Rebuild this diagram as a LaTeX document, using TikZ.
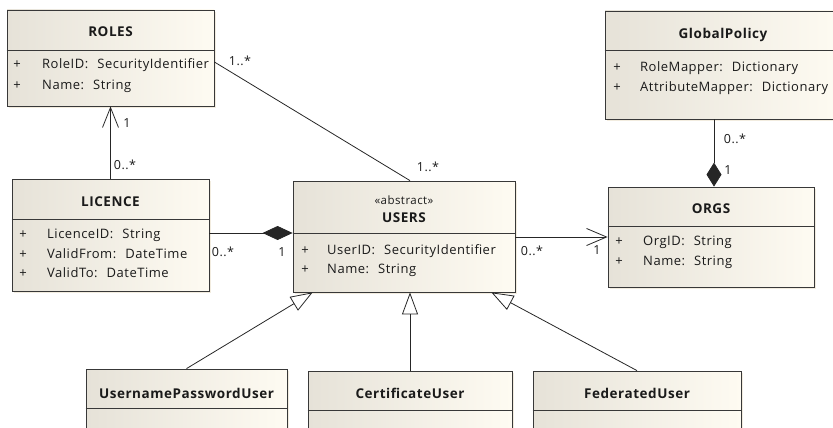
\documentclass[tikz,border=0pt]{standalone}
\usepackage{fontspec}
\setmainfont[LetterSpace=4]{Open Sans}
\usetikzlibrary{arrows.meta,fit,shadows}

\definecolor{boxleft}{HTML}{E6E2D8}
\definecolor{boxright}{HTML}{FEFBF2}
\definecolor{boxline}{HTML}{383838}
\definecolor{boxshadow}{HTML}{F2ECDF}
\definecolor{umltext}{HTML}{1A1A1A}

% one attribute line: name, x of +, x of text, y, field, type
\newcommand{\umlattr}[6]{%
  \node[attr] (#1p) at (#2,#4) {+};
  \node[attr, anchor=mid west] (#1) at (#3,#4) {#5:\hspace{9pt}#6};}

\begin{document}
\begin{tikzpicture}[x=1pt, y=-1pt,
    umlclass/.style={draw=boxline, line width=0.8pt, inner sep=0pt,
      left color=boxleft, right color=boxright,
      drop shadow={shadow xshift=2pt, shadow yshift=-2pt, fill=boxshadow, opacity=1}},
    divider/.style={draw=boxline, line width=0.8pt},
    title/.style={font=\bfseries\fontsize{13.5}{16}\selectfont, text=umltext, inner sep=0pt, anchor=mid, yshift=-2.5pt},
    stereo/.style={font=\fontsize{11.5}{13}\selectfont, text=umltext, inner sep=0pt, anchor=mid, yshift=-2pt},
    attr/.style={font=\fontsize{13}{15}\selectfont, text=umltext, inner sep=0pt, anchor=mid, yshift=-2.5pt},
    mult/.style={font=\fontsize{12.5}{14}\selectfont, text=umltext, inner sep=0pt, anchor=mid, yshift=-2.5pt},
    assoc/.style={draw=black!85, line width=0.8pt}]
  \useasboundingbox (0,0) rectangle (833,428);
  \clip (0,0) rectangle (833,428);

  % ROLES
  \node[umlclass, fit={(7,10) (214,106)}] (roles) {};
  \draw[divider] (roles.west |- 0,50) -- (roles.east |- 0,50);
  \node[title] (rolestitle) at (roles.north |- 0,31) {ROLES};
  \umlattr{roleid}{17}{42}{63}{RoleID}{SecurityIdentifier}
  \umlattr{rolename}{17}{42}{84}{Name}{String}

  % LICENCE
  \node[umlclass, fit={(12,179) (209,291)}] (licence) {};
  \draw[divider] (licence.west |- 0,219) -- (licence.east |- 0,219);
  \node[title] (licencetitle) at (licence.north |- 0,201) {LICENCE};
  \umlattr{licenceid}{23}{47}{233}{LicenceID}{String}
  \umlattr{validfrom}{23}{47}{253}{ValidFrom}{DateTime}
  \umlattr{validto}{23}{47}{272}{ValidTo}{DateTime}

  % USERS
  \node[umlclass, fit={(293,181) (515,292)}] (users) {};
  \draw[divider] (users.west |- 0,233) -- (users.east |- 0,233);
  \node[stereo] (usersstereo) at (users.north |- 0,200) {«abstract»};
  \node[title] (userstitle) at (users.north |- 0,217) {USERS};
  \umlattr{userid}{305}{327}{249}{UserID}{SecurityIdentifier}
  \umlattr{username}{305}{327}{268}{Name}{String}

  % GlobalPolicy
  \node[umlclass, fit={(605,11) (841,119)}] (globalpolicy) {};
  \draw[divider] (globalpolicy.west |- 0,50) -- (globalpolicy.east |- 0,50);
  \node[title] (globalpolicytitle) at (globalpolicy.north |- 0,33) {GlobalPolicy};
  \umlattr{rolemapper}{617}{640}{66}{RoleMapper}{Dictionary}
  \umlattr{attributemapper}{617}{640}{86}{AttributeMapper}{Dictionary}

  % ORGS
  \node[umlclass, fit={(608,187) (814,287)}] (orgs) {};
  \draw[divider] (orgs.west |- 0,226) -- (orgs.east |- 0,226);
  \node[title] (orgstitle) at (orgs.north |- 0,208) {ORGS};
  \umlattr{orgid}{619}{643}{240}{OrgID}{String}
  \umlattr{orgname}{619}{643}{260}{Name}{String}

  % subclasses
  \node[umlclass, fit={(86,369) (287,445)}] (upuser) {};
  \draw[divider] (upuser.west |- 0,408) -- (upuser.east |- 0,408);
  \node[title] (upusertitle) at (upuser.north |- 0,393) {UsernamePasswordUser};
  \node[umlclass, fit={(308,371) (512,445)}] (certuser) {};
  \draw[divider] (certuser.west |- 0,410) -- (certuser.east |- 0,410);
  \node[title] (certusertitle) at (certuser.north |- 0,393) {CertificateUser};
  \node[umlclass, fit={(533,371) (741,445)}] (fedUser) {};
  \draw[divider] (fedUser.west |- 0,410) -- (fedUser.east |- 0,410);
  \node[title] (fedusertitle) at (fedUser.north |- 0,393) {FederatedUser};

  % associations
  \draw[assoc, -{Straight Barb[length=20pt, width=16pt]}] (licence.north) -- (roles.south);
  \draw[assoc] ([yshift=-4pt]roles.east) -- ([xshift=6pt]users.north);
  \draw[assoc, -{Diamond[length=30pt, width=14pt]}] ([yshift=2pt]licence.east) -- ([yshift=2pt]licence.east -| users.west);
  \draw[assoc, -{Straight Barb[length=20pt, width=17pt]}] (orgs.west -| users.east) -- (orgs.west);
  \draw[assoc, -{Diamond[length=24pt, width=15pt]}] ([xshift=3pt]orgs.north |- globalpolicy.south) -- ([xshift=3pt]orgs.north);

  % generalizations
  \draw[assoc, -{Triangle[open, length=22pt, width=16pt]}] (upuser.north) -- ([xshift=20pt]users.south west);
  \draw[assoc, -{Triangle[open, length=22pt, width=16pt]}] (certuser.north) -- (certuser.north |- users.south);
  \draw[assoc, -{Triangle[open, length=22pt, width=16pt]}] (fedUser.north) -- ([xshift=-24pt]users.south east);

  % multiplicities
  \node[mult] (m1) at (240,60) {1..*};
  \node[mult] (m2) at (428,166) {1..*};
  \node[mult] (m3) at (127,122) {1};
  \node[mult] (m4) at (125,164) {0..*};
  \node[mult] (m5) at (223,251) {0..*};
  \node[mult] (m6) at (282,251) {1};
  \node[mult] (m7) at (532,250) {0..*};
  \node[mult] (m8) at (597,249) {1};
  \node[mult] (m9) at (735,138) {0..*};
  \node[mult] (m10) at (728,169) {1};
\end{tikzpicture}
\end{document}
